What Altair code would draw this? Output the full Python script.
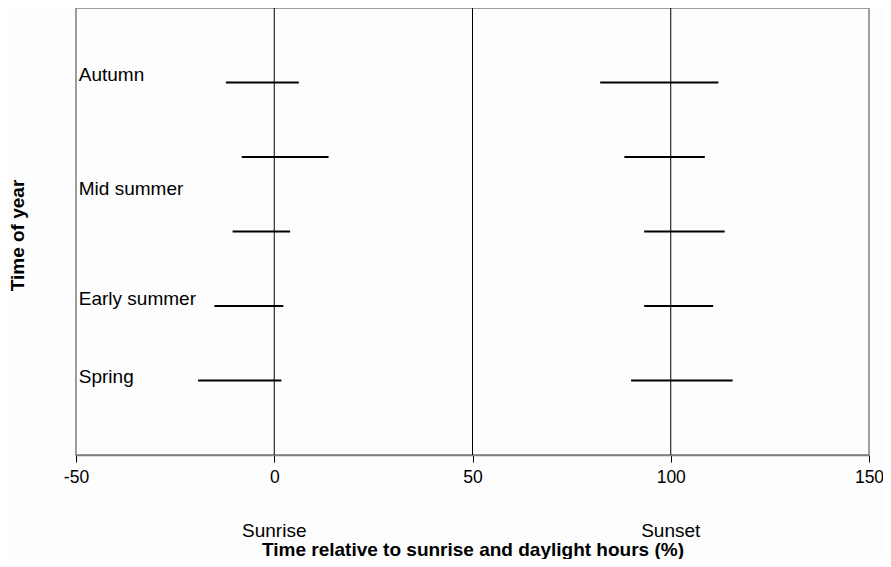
import altair as alt
import pandas as pd

# Rows (from bottom) and interval ends
row = [5, 4, 3, 2, 1]
sunrise_lo = [-12.2, -8.2, -10.5, -15.1, -19.2]
sunrise_hi = [6.2, 13.7, 4.0, 2.3, 1.8]
sunset_lo = [82.2, 88.3, 93.3, 93.3, 90.0]
sunset_hi = [112.0, 108.6, 113.6, 110.7, 115.6]

season = ["Autumn", "Mid summer", "Early summer", "Spring"]
season_y = [5.1, 3.57, 2.1, 1.05]
season_x = [-49.3, -49.3, -49.3, -49.3]

ref_lines = [0, 50, 100]
x_ticks = [-50, 0, 50, 100, 150]
event_names = ["Sunrise", "Sunset"]
event_x = [0, 100]

FONT = "Liberation Sans"

bars = pd.DataFrame(
    {"row": row * 2,
     "lo": sunrise_lo + sunset_lo,
     "hi": sunrise_hi + sunset_hi}
)
labels = pd.DataFrame({"season": season, "y": season_y, "x": season_x})
refs = pd.DataFrame({"v": ref_lines})
events = pd.DataFrame({"name": event_names, "x": event_x})

xscale = alt.Scale(domain=[-50, 150], nice=False, zero=False)
yscale = alt.Scale(domain=[0, 6], nice=False, zero=False)

xaxis = alt.Axis(
    values=x_ticks, grid=False, tickSize=7, tickColor="#000000", tickWidth=1,
    domainColor="#7f7f7f", domainWidth=1.5,
    labelFont=FONT, labelFontSize=17.5, labelColor="#000000", labelPadding=6,
    labelFlush=False, labelExpr="'' + datum.value",
    title="Time relative to sunrise and daylight hours (%)",
    titleFont=FONT, titleFontSize=19, titleFontWeight="bold", titleColor="#000000",
    titleBaseline="middle", titleY=94,
)
yaxis = alt.Axis(
    labels=False, ticks=False, grid=False, domain=False,
    title="Time of year", titleFont=FONT, titleFontSize=19, titleFontWeight="bold",
    titleColor="#000000", titleX=-59, titleY=227, titleAngle=-90,
    titleAlign="center", titleBaseline="middle",
)

rules = alt.Chart(refs).mark_rule(color="#000000", strokeWidth=1).encode(
    x=alt.X("v:Q", scale=xscale, axis=xaxis)
)

intervals = alt.Chart(bars).mark_rule(color="#000000", strokeWidth=2).encode(
    x=alt.X("lo:Q", scale=xscale, axis=xaxis),
    x2="hi:Q",
    y=alt.Y("row:Q", scale=yscale, axis=yaxis),
)

season_text = alt.Chart(labels).mark_text(
    align="left", baseline="middle", font=FONT, fontSize=19, color="#000000"
).encode(
    x=alt.X("x:Q", scale=xscale),
    y=alt.Y("y:Q", scale=yscale),
    text="season:N",
)

event_text = alt.Chart(events).mark_text(
    align="center", baseline="middle", font=FONT, fontSize=19, color="#000000"
).encode(
    x=alt.X("x:Q", scale=xscale),
    y=alt.value(523),
    text="name:N",
)

chart = (
    alt.layer(rules, intervals, season_text, event_text)
    .properties(
        width=793, height=447,
        autosize=alt.AutoSizeParams(type="none"),
        padding={"left": 68, "top": 0, "right": 14, "bottom": 104},
        background="#fdfdfd",
    )
    .configure_view(stroke="#7f7f7f", strokeWidth=1.5, fill="#fdfdfd")
)

chart.save("out.html", embed_options={"renderer": "svg", "actions": False})
